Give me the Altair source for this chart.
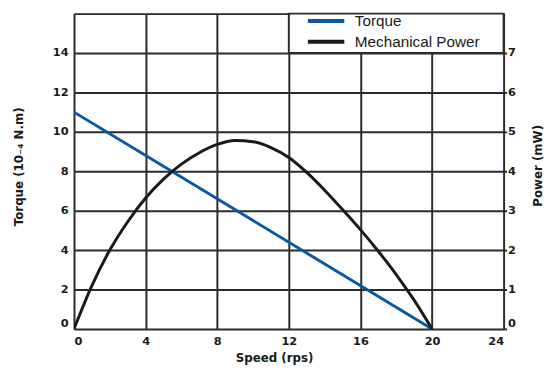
import altair as alt
import pandas as pd

# ---- data ----
torque_speed = [0, 20]
torque_vals = [11.0, 0.0]  # 10^-4 N.m

power_speed = [0, 1, 2, 3, 4, 5, 6, 7, 8, 9, 10, 11, 12, 13, 14, 15, 16, 17, 18, 19, 20]
power_vals = [0, 1.1, 2.0, 2.72, 3.32, 3.8, 4.18, 4.47, 4.68, 4.78, 4.75, 4.6, 4.35, 3.97, 3.52, 3.03, 2.52, 1.97, 1.38, 0.73, 0.0]  # mW

series_names = ["Torque", "Mechanical Power"]
series_colors = ["#0b57a0", "#1a1a1a"]

x_ticks = [0, 4, 8, 12, 16, 20, 24]
left_ticks = [0, 2, 4, 6, 8, 10, 12, 14, 16]
right_ticks = [0, 1, 2, 3, 4, 5, 6, 7]

legend_box = {"x": [12], "x2": [24], "y": [14], "y2": [16]}

BOLD = "'DejaVu Sans', sans-serif"
REG = "'Liberation Sans', Arial, sans-serif"
GRID = "#2b2b2b"
TXT = "#1a1a1a"

tq = pd.DataFrame({"speed": torque_speed, "value": torque_vals, "series": series_names[0]})
pw = pd.DataFrame({"speed": power_speed, "value": power_vals, "series": series_names[1]})
box = pd.DataFrame(legend_box)

xscale = alt.Scale(domain=[0, 24], nice=False, zero=False)
yl = alt.Scale(domain=[0, 16], nice=False)
yr = alt.Scale(domain=[0, 8], nice=False)
color = alt.Color(
    "series:N",
    scale=alt.Scale(domain=series_names, range=series_colors),
    legend=alt.Legend(
        title=None, orient="none", legendX=235, legendY=-1,
        symbolType="M-1,0H5", symbolSize=152, symbolStrokeWidth=4,
        labelFont=REG, labelFontSize=15.5, labelColor=TXT,
        labelOffset=33, padding=0, rowPadding=4,
    ),
)

xaxis = alt.Axis(
    values=x_ticks, title="Speed (rps)", grid=True, gridColor=GRID, gridWidth=2,
    domain=False, ticks=False, labelFlush=True, labelPadding=7,
    labelFont=BOLD, labelFontSize=11.5, labelFontWeight="bold", labelColor=TXT,
    titleFont=BOLD, titleFontSize=12, titleFontWeight="bold", titleColor=TXT,
    titleX=203, titlePadding=6,
)

left_axis = alt.Axis(
    values=left_ticks, title="Torque (10₋₄ N.m)", grid=True, gridColor=GRID, gridWidth=2,
    domain=False, ticks=False, labelPadding=6, labelFlush=True,
    labelExpr="datum.value == 16 ? '' : datum.label",
    labelFont=BOLD, labelFontSize=11.5, labelFontWeight="bold", labelColor=TXT,
    titleFont=BOLD, titleFontSize=12, titleFontWeight="bold", titleColor=TXT,
    titleX=-56, titleY=155, titleBaseline="middle", titleAlign="center", titleAngle=270,
)

right_axis = alt.Axis(
    values=right_ticks, title="Power (mW)", grid=False, orient="right",
    domain=False, ticks=True, tickSize=3, tickWidth=2, tickColor=GRID, labelPadding=1,
    labelFlush=True,
    labelFont=BOLD, labelFontSize=11.5, labelFontWeight="bold", labelColor=TXT,
    titleFont=BOLD, titleFontSize=12, titleFontWeight="bold", titleColor=TXT,
    titleX=34, titleY=154, titleBaseline="middle", titleAlign="center", titleAngle=270,
)

boxes = alt.Chart(box).mark_rect(fill="white", stroke=GRID, strokeWidth=2).encode(
    x=alt.X("x:Q", scale=xscale, axis=xaxis),
    x2="x2:Q",
    y=alt.Y("y:Q", scale=yl, axis=left_axis),
    y2="y2:Q",
)

torque_line = alt.Chart(tq).mark_line(strokeWidth=3, clip=True).encode(
    x=alt.X("speed:Q", scale=xscale, axis=xaxis),
    y=alt.Y("value:Q", scale=yl, axis=left_axis),
    color=color,
)

power_line = alt.Chart(pw).mark_line(strokeWidth=3, interpolate="monotone", clip=True).encode(
    x=alt.X("speed:Q", scale=xscale, axis=xaxis),
    y=alt.Y("value:Q", scale=yr, axis=right_axis),
    color=color,
)

left_layer = alt.layer(boxes, torque_line)
chart = alt.layer(left_layer, power_line).resolve_scale(y="independent").properties(
    width=436, height=320,
    autosize=alt.AutoSizeParams(type="none"),
    padding={"left": 67, "top": 3, "right": 42, "bottom": 40},
).configure_view(stroke=GRID, strokeWidth=2).configure(background="white")

chart.save("out.html", embed_options={"renderer": "svg", "actions": False})
